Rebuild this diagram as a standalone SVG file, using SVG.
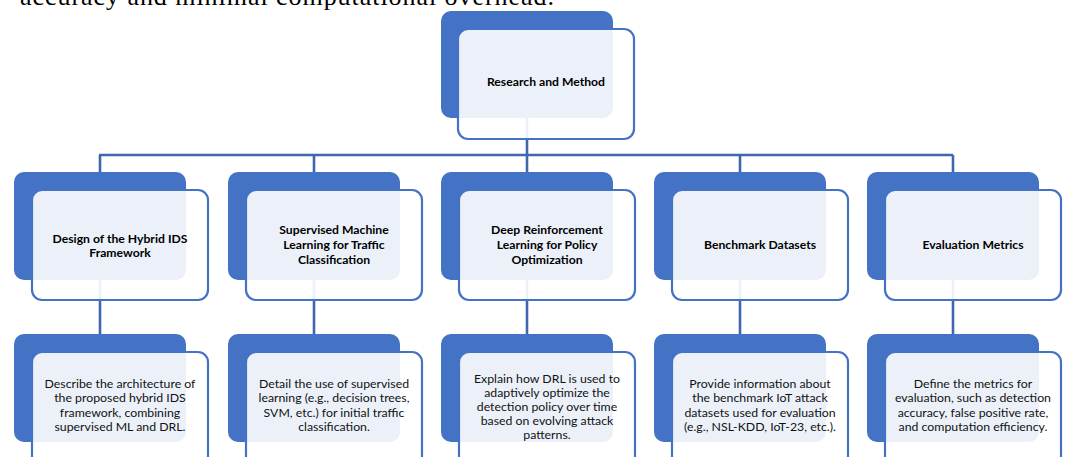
<svg xmlns="http://www.w3.org/2000/svg" width="1067" height="457" viewBox="0 0 1067 457">
<style>
.bg{fill:#4472C4}
.fg{fill:#FFFFFF;fill-opacity:0.9;stroke:#4472C4;stroke-width:2.2}
.con{fill:none;stroke:#3F66AF;stroke-width:2.6}
.t{font-family:Lato,"Liberation Sans",sans-serif;font-weight:bold;font-size:12.2px;fill:#000;text-anchor:middle}
.d{font-family:Lato,"Liberation Sans",sans-serif;font-size:12.3px;fill:#111;text-anchor:middle}
.top{font-family:"Liberation Serif",serif;font-size:26px;fill:#000}
</style>
<rect width="1067" height="457" fill="#FFFFFF"/>
<text class="top" x="20" y="5" textLength="534">accuracy and minimal computational overhead.</text>
<g id="connectors">
<path class="con" d="M527 118 V155 M99 155 H953 M100 155 V172 M314 155 V172 M527 155 V172 M740 155 V172 M953 155 V172"/>
<path class="con" d="M100 280 V334 M314 280 V334 M527 280 V334 M740 280 V334 M953 280 V334"/>
</g>
<g id="root">
<rect class="bg" x="441" y="11" width="172" height="107" rx="10"/>
<rect class="fg" x="458" y="29" width="176" height="110" rx="10"/>
<text class="t" x="546" y="86">Research and Method</text>
</g>
<g id="n1">
<rect class="bg" x="14" y="172" width="172" height="108" rx="10"/>
<rect class="fg" x="32" y="190" width="176" height="110" rx="10"/>
<text class="t" x="120" y="243">Design of the Hybrid IDS</text>
<text class="t" x="120" y="257">Framework</text>
</g>
<g id="n2">
<rect class="bg" x="228" y="172" width="172" height="108" rx="10"/>
<rect class="fg" x="246" y="190" width="176" height="110" rx="10"/>
<text class="t" x="334" y="234">Supervised Machine</text>
<text class="t" x="334" y="249">Learning for Traffic</text>
<text class="t" x="334" y="264">Classification</text>
</g>
<g id="n3">
<rect class="bg" x="441" y="172" width="172" height="108" rx="10"/>
<rect class="fg" x="459" y="190" width="176" height="110" rx="10"/>
<text class="t" x="547" y="234">Deep Reinforcement</text>
<text class="t" x="547" y="249">Learning for Policy</text>
<text class="t" x="547" y="264">Optimization</text>
</g>
<g id="n4">
<rect class="bg" x="654" y="172" width="172" height="108" rx="10"/>
<rect class="fg" x="672" y="190" width="176" height="110" rx="10"/>
<text class="t" x="760" y="249">Benchmark Datasets</text>
</g>
<g id="n5">
<rect class="bg" x="867" y="172" width="172" height="108" rx="10"/>
<rect class="fg" x="885" y="190" width="176" height="110" rx="10"/>
<text class="t" x="973" y="249">Evaluation Metrics</text>
</g>
<g id="d1">
<rect class="bg" x="14" y="334" width="172" height="108" rx="10"/>
<rect class="fg" x="32" y="352" width="176" height="120" rx="10"/>
<text class="d" x="120" y="388">Describe the architecture of</text>
<text class="d" x="120" y="402">the proposed hybrid IDS</text>
<text class="d" x="120" y="417">framework, combining</text>
<text class="d" x="120" y="431">supervised ML and DRL.</text>
</g>
<g id="d2">
<rect class="bg" x="228" y="334" width="172" height="108" rx="10"/>
<rect class="fg" x="246" y="352" width="176" height="120" rx="10"/>
<text class="d" x="334" y="388">Detail the use of supervised</text>
<text class="d" x="334" y="402">learning (e.g., decision trees,</text>
<text class="d" x="334" y="417">SVM, etc.) for initial traffic</text>
<text class="d" x="334" y="431">classification.</text>
</g>
<g id="d3">
<rect class="bg" x="441" y="334" width="172" height="108" rx="10"/>
<rect class="fg" x="459" y="352" width="176" height="120" rx="10"/>
<text class="d" x="547" y="383">Explain how DRL is used to</text>
<text class="d" x="547" y="397">adaptively optimize the</text>
<text class="d" x="547" y="411">detection policy over time</text>
<text class="d" x="547" y="425">based on evolving attack</text>
<text class="d" x="547" y="439">patterns.</text>
</g>
<g id="d4">
<rect class="bg" x="654" y="334" width="172" height="108" rx="10"/>
<rect class="fg" x="672" y="352" width="176" height="120" rx="10"/>
<text class="d" x="760" y="388">Provide information about</text>
<text class="d" x="760" y="402">the benchmark IoT attack</text>
<text class="d" x="760" y="417">datasets used for evaluation</text>
<text class="d" x="760" y="431">(e.g., NSL-KDD, IoT-23, etc.).</text>
</g>
<g id="d5">
<rect class="bg" x="867" y="334" width="172" height="108" rx="10"/>
<rect class="fg" x="885" y="352" width="176" height="120" rx="10"/>
<text class="d" x="973" y="388">Define the metrics for</text>
<text class="d" x="973" y="402">evaluation, such as detection</text>
<text class="d" x="973" y="417">accuracy, false positive rate,</text>
<text class="d" x="973" y="431">and computation efficiency.</text>
</g>
</svg>
